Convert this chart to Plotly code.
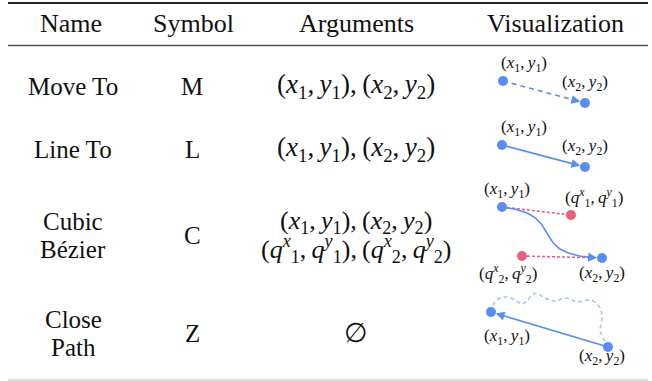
import numpy as np
import plotly.graph_objects as go

# table content
headers = ["Name", "Symbol", "Arguments", "Visualization"]
header_x = [71, 193, 356, 555]
names = [["Move To"], ["Line To"], ["Cubic", "Bézier"], ["Close", "Path"]]
symbols = ["M", "L", "C", "Z"]
TS = "\u2009"
P1 = "(<i>x</i><sub>1</sub>," + TS + "<i>y</i><sub>1</sub>)"
P2 = "(<i>x</i><sub>2</sub>," + TS + "<i>y</i><sub>2</sub>)"
Q1 = "(<i>q</i><sup><i>x</i></sup><sub>1</sub>," + TS + "<i>q</i><sup><i>y</i></sup><sub>1</sub>)"
Q2 = "(<i>q</i><sup><i>x</i></sup><sub>2</sub>," + TS + "<i>q</i><sup><i>y</i></sup><sub>2</sub>)"
arguments = [[P1 + "," + TS + P2], [P1 + "," + TS + P2],
             [P1 + "," + TS + P2, Q1 + "," + TS + Q2], ["∅"]]
row_y = [86, 149, 235, 333]

# visualization points (pixel space of the table)
move_x, move_y = [503, 585], [81, 103]
line_x, line_y = [502, 585], [145, 167]
cubic_p_x, cubic_p_y = [502, 602], [207, 258]
cubic_q_x, cubic_q_y = [571, 522], [215, 256]
close_x, close_y = [491, 608], [312, 347]
wave_x = [491, 493, 498, 507, 515, 522, 527, 532, 537, 543, 550, 557, 563, 570, 577, 583, 590, 596, 601, 602, 600, 603, 608]
wave_y = [312, 305, 299, 297, 300, 304, 301, 295, 293, 297, 300, 301, 298, 299, 302, 301, 300, 303, 310, 320, 330, 338, 347]

BLUE = "#5a8cf5"
RED = "#e5637a"
LIGHT = "#a9c3f6"
FONT = '"Liberation Serif", "Times New Roman", Times, serif'

fig = go.Figure()
ann = []

def text(x, y, s, size=25, color="#111"):
    ann.append(dict(x=x, y=y, text=s, showarrow=False, xanchor="center", yanchor="middle",
                    font=dict(family=FONT, size=size, color=color)))

def arrow(x, y, ax, ay, standoff=5, width=1.6, color=BLUE):
    ann.append(dict(x=x, y=y, ax=ax, ay=ay, axref="x", ayref="y", xref="x", yref="y", text="",
                    showarrow=True, arrowhead=2, arrowsize=1.1, arrowwidth=width,
                    arrowcolor=color, standoff=standoff))

for h, hx in zip(headers, header_x):
    text(hx, 23, h, 26)

for i in range(4):
    lines = names[i]
    off = 14 * (len(lines) - 1)
    for j, ln in enumerate(lines):
        text(73, row_y[i] - off + 28 * j, ln)
    text(192, row_y[i], symbols[i])
    al = arguments[i]
    aoff = 13 * (len(al) - 1)
    for j, ln in enumerate(al):
        text(356, row_y[i] - aoff + 27 * j, ln, 26 if len(al) > 1 else 27)

# Move To: dashed
fig.add_trace(go.Scatter(x=move_x, y=move_y, mode="lines", line=dict(color=BLUE, width=1.6, dash="5px,4px")))
arrow(move_x[1], move_y[1], move_x[1] - 0.18 * (move_x[1] - move_x[0]),
      move_y[1] - 0.18 * (move_y[1] - move_y[0]), standoff=5)
fig.add_trace(go.Scatter(x=move_x, y=move_y, mode="markers", marker=dict(color=BLUE, size=10)))
text(524, 64, P1, 17)
text(585, 83, P2, 17)

# Line To
arrow(line_x[1], line_y[1], line_x[0], line_y[0], standoff=5)
fig.add_trace(go.Scatter(x=line_x, y=line_y, mode="markers", marker=dict(color=BLUE, size=10)))
text(524, 128, P1, 17)
text(585, 147, P2, 17)

# Cubic Bezier
fig.add_trace(go.Scatter(x=[cubic_p_x[0], cubic_q_x[0]], y=[cubic_p_y[0], cubic_q_y[0]], mode="lines",
                         line=dict(color=RED, width=1.6, dash="3px,2px")))
fig.add_trace(go.Scatter(x=[cubic_q_x[1], cubic_p_x[1]], y=[cubic_q_y[1], cubic_p_y[1]], mode="lines",
                         line=dict(color=RED, width=1.6, dash="3px,2px")))
t = np.linspace(0, 1, 60)
bx = ((1 - t) ** 3 * cubic_p_x[0] + 3 * (1 - t) ** 2 * t * cubic_q_x[0]
      + 3 * (1 - t) * t ** 2 * cubic_q_x[1] + t ** 3 * cubic_p_x[1])
by = ((1 - t) ** 3 * cubic_p_y[0] + 3 * (1 - t) ** 2 * t * cubic_q_y[0]
      + 3 * (1 - t) * t ** 2 * cubic_q_y[1] + t ** 3 * cubic_p_y[1])
fig.add_trace(go.Scatter(x=bx[:-2], y=by[:-2], mode="lines", line=dict(color=BLUE, width=1.6)))
arrow(bx[-1], by[-1], bx[-4], by[-4], standoff=5)
fig.add_trace(go.Scatter(x=cubic_q_x, y=cubic_q_y, mode="markers", marker=dict(color=RED, size=10)))
fig.add_trace(go.Scatter(x=cubic_p_x, y=cubic_p_y, mode="markers", marker=dict(color=BLUE, size=10)))
text(507, 190, P1, 17)
text(594, 197, Q1, 17)
text(508, 273, Q2, 17)
text(602, 274, P2, 17)

# Close Path
fig.add_trace(go.Scatter(x=wave_x, y=wave_y, mode="lines", line=dict(color=LIGHT, width=1.6, dash="4px,3px", shape="spline")))
arrow(close_x[0], close_y[0], close_x[1], close_y[1], standoff=5)
fig.add_trace(go.Scatter(x=close_x, y=close_y, mode="markers", marker=dict(color=BLUE, size=10)))
text(507, 337, P1, 17)
text(602, 357, P2, 17)

shapes = [
    dict(type="line", x0=8, x1=648, y0=3, y1=3, line=dict(color="#222", width=2)),
    dict(type="line", x0=8, x1=648, y0=45.5, y1=45.5, line=dict(color="#555", width=1.3)),
    dict(type="line", x0=8, x1=648, y0=380, y1=380, line=dict(color="#bbb", width=1)),
]

fig.update_layout(
    width=652, height=381, margin=dict(l=0, r=0, t=0, b=0),
    paper_bgcolor="white", plot_bgcolor="white", showlegend=False,
    annotations=ann, shapes=shapes,
    xaxis=dict(range=[0, 652], visible=False, fixedrange=True),
    yaxis=dict(range=[381, 0], visible=False, fixedrange=True),
)

fig.write_html("out.html", config={"displayModeBar": False},
               post_script="document.body.style.margin='0';")
